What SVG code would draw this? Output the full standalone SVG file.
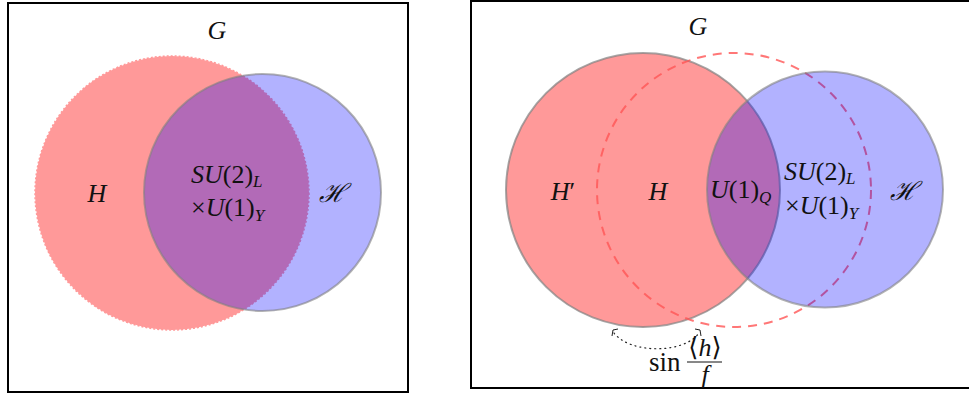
<svg xmlns="http://www.w3.org/2000/svg" width="969" height="398" viewBox="0 0 969 398">
<style>
.box{fill:none;stroke:#000;stroke-width:2}
.t{font-family:"Liberation Serif","DejaVu Serif",serif;font-style:italic;font-size:26px;fill:#111}
.s{font-size:17px}
.up{font-family:"Liberation Serif","DejaVu Serif",serif;font-size:27px;fill:#111}
.red{fill:#ff0000;fill-opacity:0.4}
.blue{fill:#0000ff;fill-opacity:0.3;stroke:#808080;stroke-opacity:0.6;stroke-width:2}
</style>
<g id="panel-left">
<rect class="box" x="8" y="3" width="400" height="389"/>
<text class="t" x="217" y="39" text-anchor="middle">G</text>
<g id="H-left"><circle class="red" cx="172" cy="193" r="137" stroke="#ff9999" stroke-width="1.5" stroke-dasharray="2 2"/></g>
<g id="Hcal-left"><circle class="blue" cx="262.5" cy="192.5" r="118.5"/></g>
<text class="t" x="97" y="202" text-anchor="middle">H</text>
<text class="t" x="333" y="202" text-anchor="middle">ℋ</text>
<text class="t" x="191" y="183">SU<tspan font-style="normal">(2)</tspan><tspan class="s" dy="4">L</tspan></text>
<text class="t" x="191" y="216"><tspan font-style="normal">×</tspan>U<tspan font-style="normal">(1)</tspan><tspan class="s" dy="5">Y</tspan></text>
</g>
<g id="panel-right">
<rect class="box" x="471" y="1" width="500" height="387" stroke-width="1.5"/>
<text class="t" x="698" y="35" text-anchor="middle">G</text>
<g id="Hprime"><circle class="red" cx="643" cy="190" r="137" stroke="#808080" stroke-opacity="0.7" stroke-width="2"/></g>
<g id="H-right"><circle cx="734" cy="190" r="137" fill="none" stroke="#ff5555" stroke-opacity="0.8" stroke-width="2" stroke-dasharray="9 7"/></g>
<g id="Hcal-right"><circle class="blue" cx="825" cy="189.5" r="118"/></g>
<text class="t" x="563" y="200" text-anchor="middle">H<tspan font-style="normal">′</tspan></text>
<text class="t" x="658" y="200" text-anchor="middle">H</text>
<text class="t" x="710" y="198">U<tspan font-style="normal">(1)</tspan><tspan class="s" dy="5">Q</tspan></text>
<text class="t" x="784" y="180">SU<tspan font-style="normal">(2)</tspan><tspan class="s" dy="4">L</tspan></text>
<text class="t" x="785" y="214"><tspan font-style="normal">×</tspan>U<tspan font-style="normal">(1)</tspan><tspan class="s" dy="5">Y</tspan></text>
<text class="t" x="904" y="200" text-anchor="middle">ℋ</text>
<g id="connectors">
<path d="M614 333 C630 354,684 354,699 333" fill="none" stroke="#222" stroke-width="1.2" stroke-dasharray="1 4" stroke-linecap="round"/>
<path d="M612 336 L613 330 L618 329" fill="none" stroke="#222" stroke-width="1"/>
<path d="M695 329 L700 330 L701 336" fill="none" stroke="#222" stroke-width="1"/>
</g>
<text class="up" x="649" y="371">sin</text>
<text class="t" x="705" y="356" text-anchor="middle" font-size="16"><tspan font-style="normal">⟨</tspan>h<tspan font-style="normal">⟩</tspan></text>
<line x1="687" y1="362" x2="722" y2="362" stroke="#111" stroke-width="1"/>
<text class="t" x="705" y="383" text-anchor="middle" font-size="16">f</text>
</g>
</svg>
